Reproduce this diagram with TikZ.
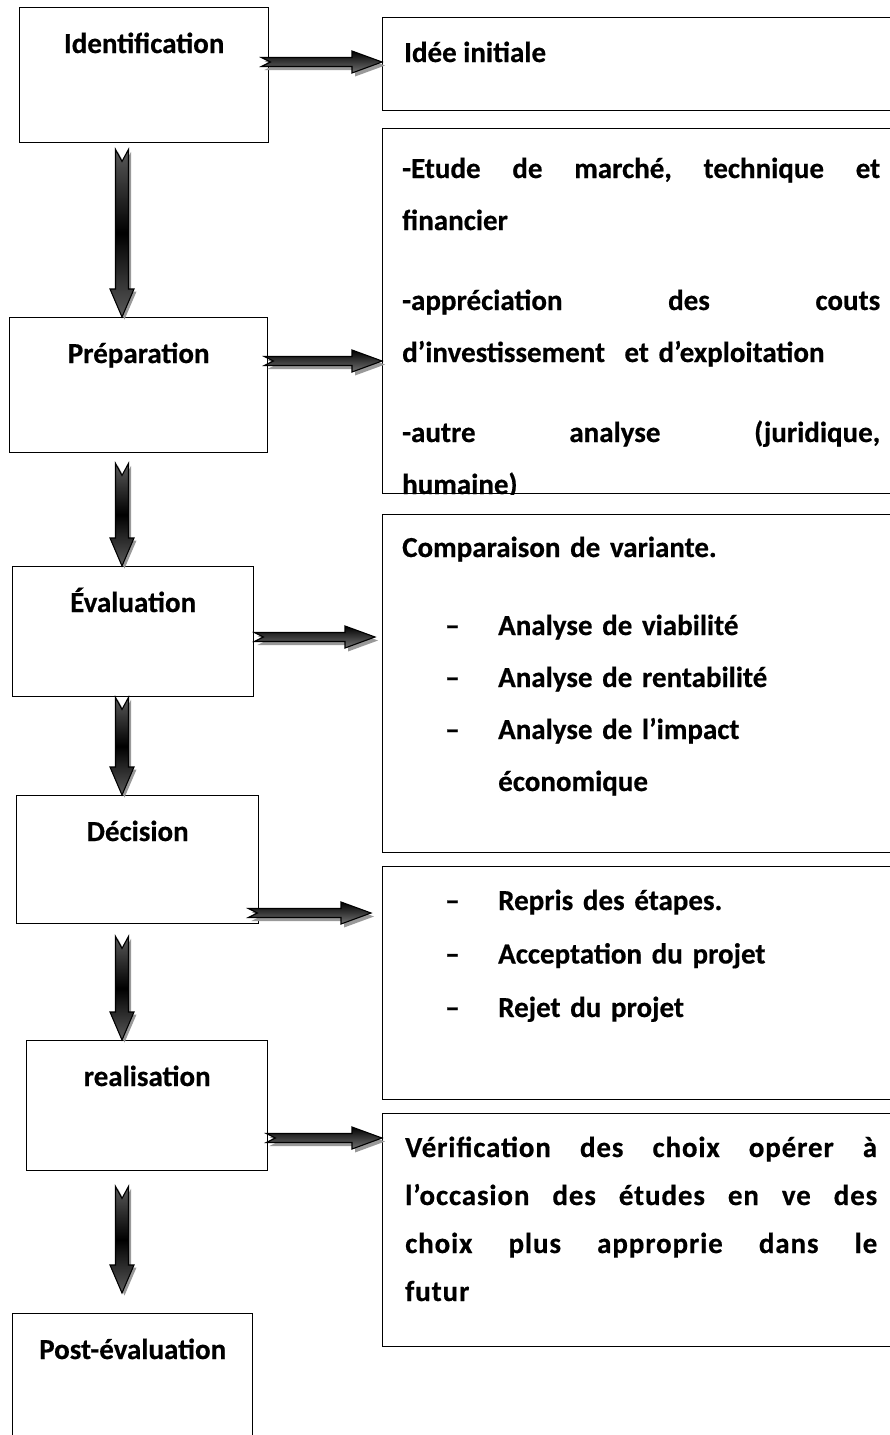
\documentclass[tikz,border=0pt]{standalone}
\usepackage{fontspec}
\setmainfont{Carlito}[BoldFeatures={FakeBold=0.5}]
\newfontfamily\widefont{Carlito}[LetterSpace=3, BoldFeatures={FakeBold=0.5}]
\usetikzlibrary{calc}
\newcommand{\dashitem}[1]{\hspace*{43pt}\makebox[53pt][l]{–}#1}
\tikzset{
  boxstyle/.style={draw, line width=1.4pt, anchor=north west, inner sep=0pt},
  ltext/.style={font=\fontsize{29}{35}\selectfont\bfseries, inner sep=0pt, anchor=base},
  rtext/.style={font=\fontsize{29}{52}\selectfont\bfseries, inner sep=0pt, anchor=base west, align=left},
  shadowc/.style={fill=black!40},
  rarrowstyle/.style={draw=black, line width=1.1pt, top color=black, bottom color=black!55},
  darrowstyle/.style={draw=black, line width=1.1pt, top color=black!65, bottom color=black!65, middle color=black},
  rarr/.style n args={3}{insert path={($(#1)+(0,4.5)+(#3)$) -- ($(#2)+(-30,4.5)+(#3)$) -- ($(#2)+(-30,11)+(#3)$) -- ($(#2)+(#3)$) -- ($(#2)+(-30,-11)+(#3)$) -- ($(#2)+(-30,-4.5)+(#3)$) -- ($(#1)+(0,-4.5)+(#3)$) -- ($(#1)+(9,0)+(#3)$) -- cycle}},
  darr/.style n args={3}{insert path={($(#1)+(-6.5,0)+(#3)$) -- ($(#2)+(-6.5,28)+(#3)$) -- ($(#2)+(-12,28)+(#3)$) -- ($(#2)+(#3)$) -- ($(#2)+(12,28)+(#3)$) -- ($(#2)+(6.5,28)+(#3)$) -- ($(#1)+(6.5,0)+(#3)$) -- ($(#1)+(0,-12)+(#3)$) -- cycle}},
}
\begin{document}
\begin{tikzpicture}[x=1pt, y=1pt]
\useasboundingbox (0,0) rectangle (889,-1435);
\fill[white] (0,0) rectangle (889,-1435);

% left column
\node[boxstyle, minimum width=249pt, minimum height=135pt] (ident) at (19,-7) {};
\node[ltext] (identt) at ($(ident.north)+(0,-46)$) {Identification};
\node[boxstyle, minimum width=258pt, minimum height=135pt] (prep) at (9,-317) {};
\node[ltext] (prept) at ($(prep.north)+(0,-46)$) {Préparation};
\node[boxstyle, minimum width=241pt, minimum height=130pt] (eval) at (12,-566) {};
\node[ltext] (evalt) at ($(eval.north)+(0,-46)$) {Évaluation};
\node[boxstyle, minimum width=242pt, minimum height=128pt] (dec) at (16,-795) {};
\node[ltext] (dect) at ($(dec.north)+(0,-46)$) {Décision};
\node[boxstyle, minimum width=241pt, minimum height=130pt] (real) at (26,-1040) {};
\node[ltext] (realt) at ($(real.north)+(0,-46)$) {realisation};
\node[boxstyle, minimum width=240pt, minimum height=140pt] (post) at (12,-1313) {};
\node[ltext] (postt) at ($(post.north)+(0,-46)$) {Post-évaluation};

% right column
\node[boxstyle, minimum width=513pt, minimum height=93pt] (idee) at (382,-17) {};
\node[rtext] (ideet) at ($(idee.north west)+(22,-45)$) {Idée initiale};

\node[boxstyle, minimum width=513pt, minimum height=365pt] (etude) at (382,-128) {};
\begin{scope}
\clip (etude.north west) rectangle (etude.south east);
\node[rtext, text width=478pt] (etudet) at ($(etude.north west)+(20,-50)$) {%
\makebox[478pt][s]{-Etude\hfill de\hfill marché,\hfill technique\hfill et}\\
financier\\[28pt]
\makebox[478pt][s]{-appréciation\hfill des\hfill couts}\\
d’investissement\ \ et d’exploitation\\[28pt]
\makebox[478pt][s]{-autre\hfill analyse\hfill (juridique,}\\
humaine)};
\end{scope}

\node[boxstyle, minimum width=513pt, minimum height=338pt] (comp) at (382,-514) {};
\node[rtext, text width=478pt] (compt) at ($(comp.north west)+(20,-43)$) {%
Comparaison de variante.\\[26pt]
\dashitem{Analyse de viabilité}\\
\dashitem{Analyse de rentabilité}\\
\dashitem{Analyse de l’impact}\\
\hspace*{96pt}économique};

\node[boxstyle, minimum width=513pt, minimum height=233pt] (repris) at (382,-866) {};
\node[rtext, text width=478pt, font=\fontsize{29}{53.5}\selectfont\bfseries] (reprist) at ($(repris.north west)+(20,-44)$) {%
\dashitem{Repris des étapes.}\\
\dashitem{Acceptation du projet}\\
\dashitem{Rejet du projet}};

\node[boxstyle, minimum width=513pt, minimum height=233pt] (verif) at (382,-1113) {};
\node[rtext, text width=472pt, font=\widefont\fontsize{29}{48}\selectfont\bfseries] (veriftt) at ($(verif.north west)+(23,-44)$) {%
\makebox[472pt][s]{Vérification\hfill des\hfill choix\hfill opérer\hfill à}\\
\makebox[472pt][s]{l’occasion\hfill des\hfill études\hfill en\hfill ve\hfill des}\\
\makebox[472pt][s]{choix\hfill plus\hfill approprie\hfill dans\hfill le}\\
futur};

% right arrows
\coordinate (a1s) at ($(ident.north east)+(-8,-55)$);
\coordinate (a1e) at (idee.west |- a1s);
\coordinate (a2s) at ($(prep.north east)+(-4,-44)$);
\coordinate (a2e) at (etude.west |- a2s);
\coordinate (a3s) at ($(eval.north east)+(0,-71)$);
\coordinate (a3e0) at (comp.west |- a3s);
\coordinate (a3e) at ($(a3e0)+(-7,0)$);
\coordinate (a4s) at ($(dec.north east)+(-11,-118)$);
\coordinate (a4e0) at (repris.west |- a4s);
\coordinate (a4e) at ($(a4e0)+(-11,0)$);
\coordinate (a5s) at ($(real.north east)+(-2,-98)$);
\coordinate (a5e) at (verif.west |- a5s);
\foreach \s/\e in {a1s/a1e, a2s/a2e, a3s/a3e, a4s/a4e, a5s/a5e}{
  \fill[shadowc, rarr={\s}{\e}{3,-3.5}];
  \draw[rarrowstyle, rarr={\s}{\e}{0,0}];
}

% down arrows
\coordinate (d1s) at ($(ident.south west)+(103,-6)$);
\coordinate (d1e) at (d1s |- prep.north);
\coordinate (d2s) at ($(prep.south west)+(113,-10)$);
\coordinate (d2e) at (d2s |- eval.north);
\coordinate (d3s) at ($(eval.south west)+(110,0)$);
\coordinate (d3e) at (d3s |- dec.north);
\coordinate (d4s) at ($(dec.south west)+(106,-12)$);
\coordinate (d4e) at (d4s |- real.north);
\coordinate (d5s) at ($(real.south west)+(96,-15)$);
\coordinate (d5e0) at (d5s |- post.north);
\coordinate (d5e) at ($(d5e0)+(0,20)$);
\foreach \s/\e in {d1s/d1e, d2s/d2e, d3s/d3e, d4s/d4e, d5s/d5e}{
  \fill[shadowc, darr={\s}{\e}{2.5,-2.5}];
  \draw[darrowstyle, darr={\s}{\e}{0,0}];
}
\end{tikzpicture}
\end{document}
